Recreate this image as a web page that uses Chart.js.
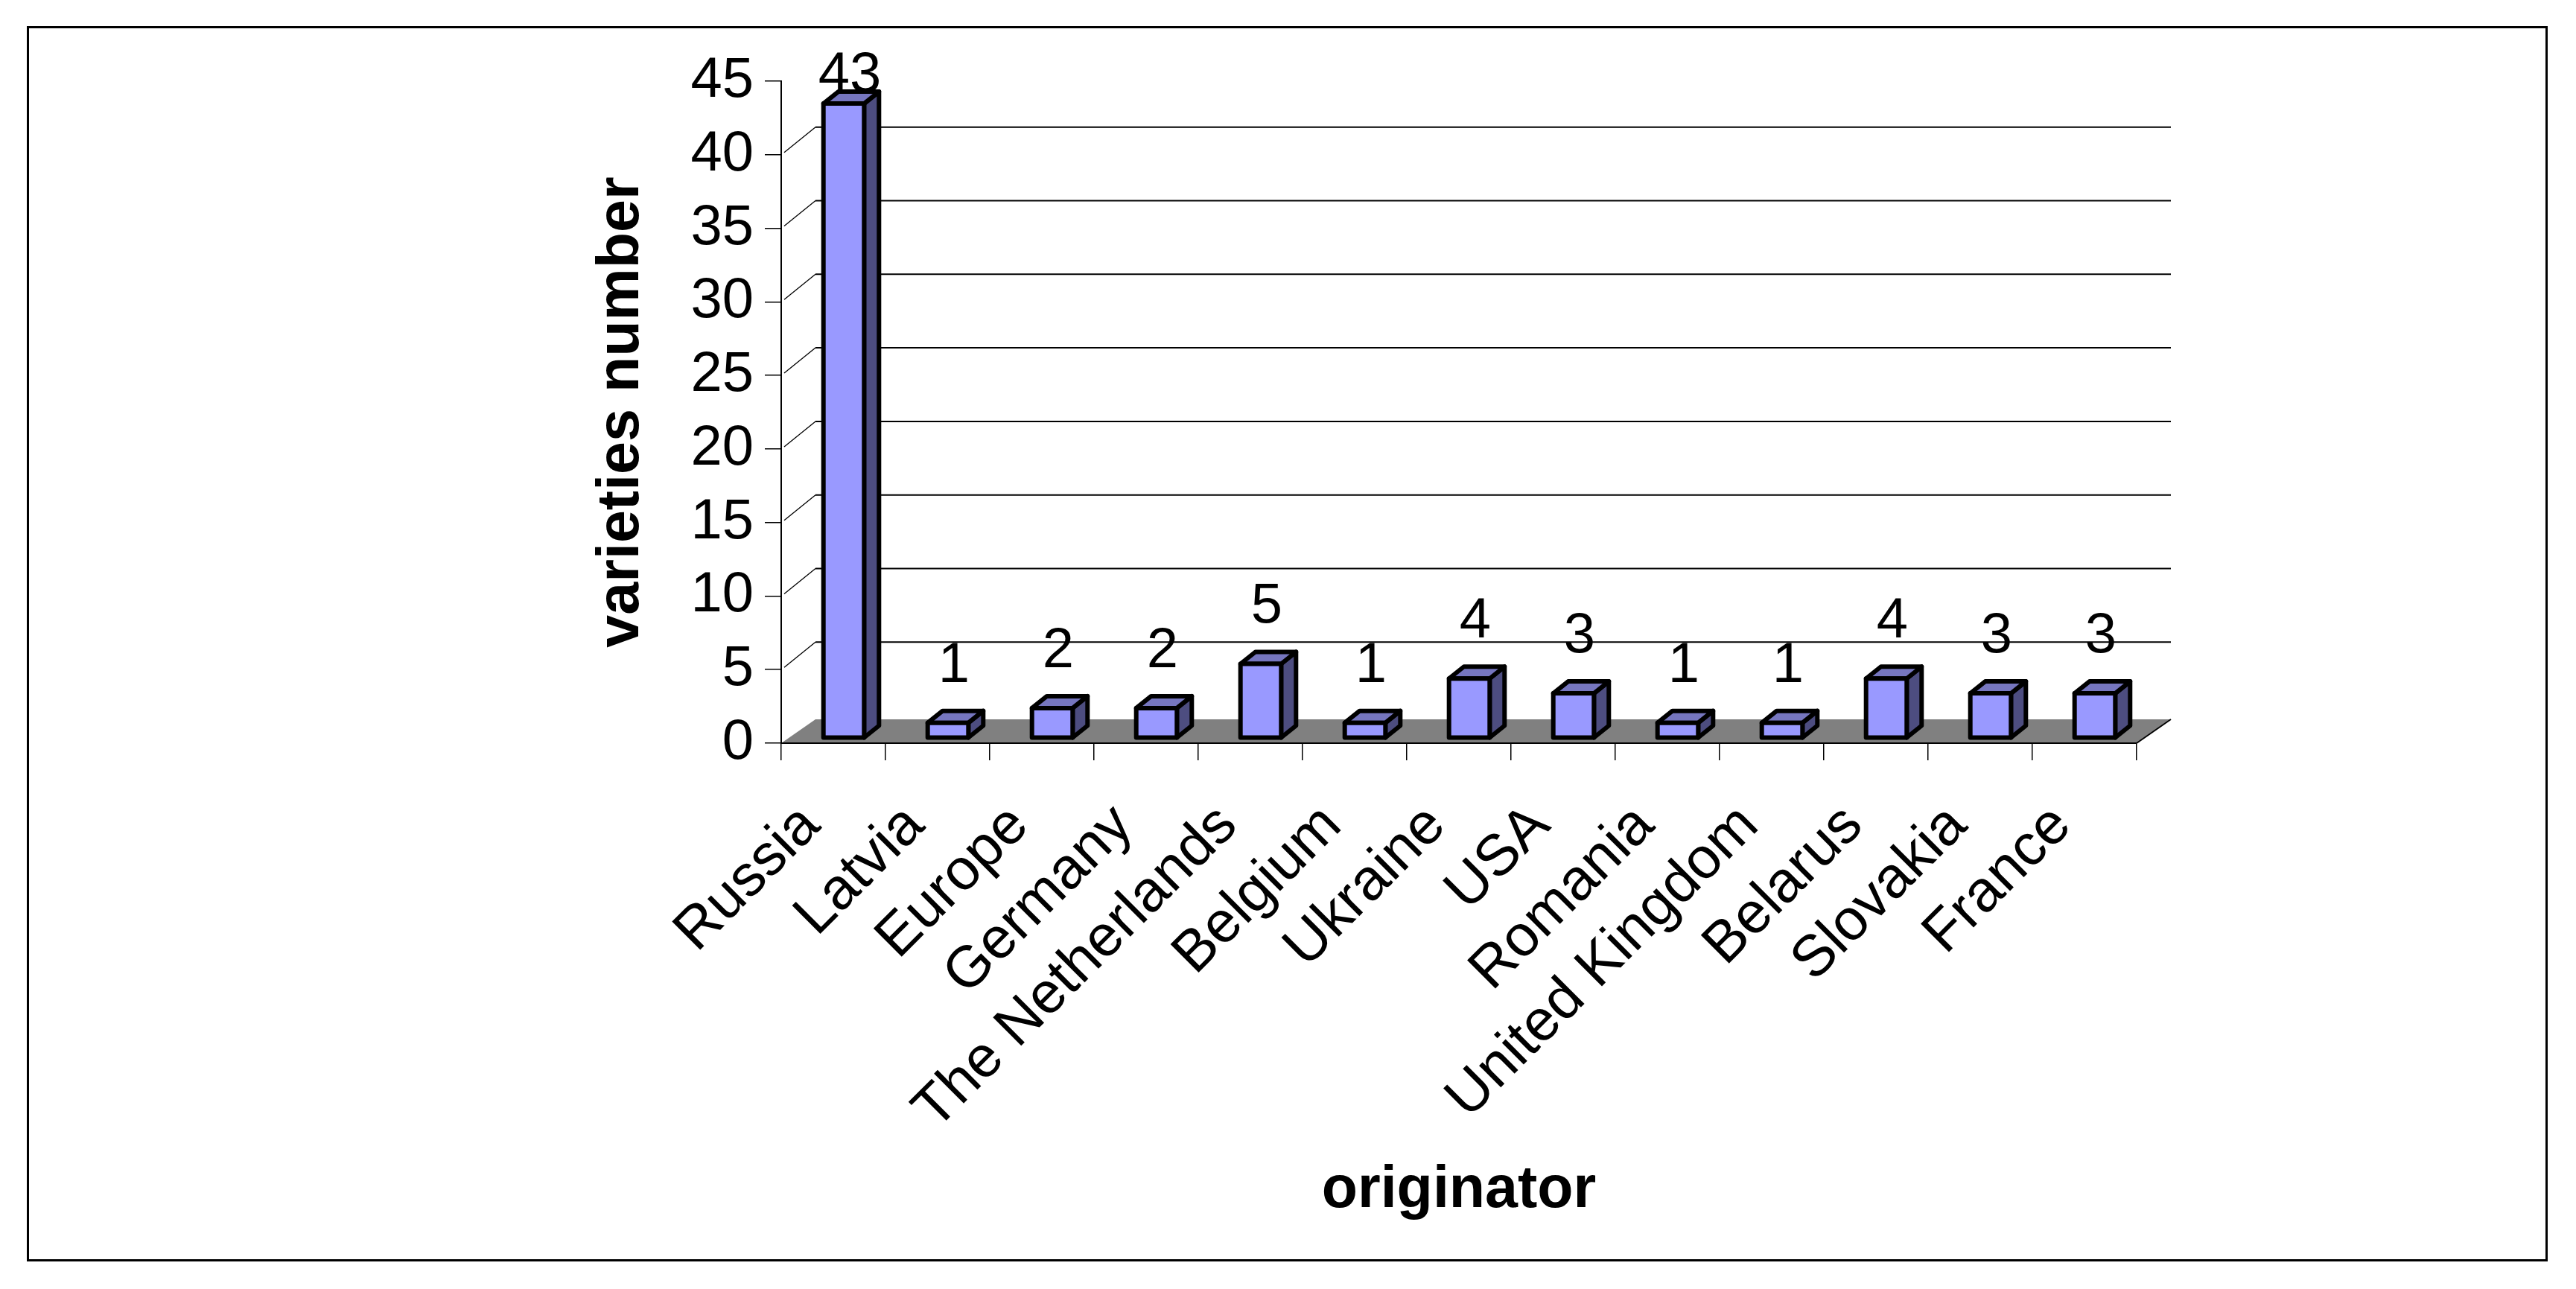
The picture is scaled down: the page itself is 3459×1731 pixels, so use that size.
<!DOCTYPE html>
<html>
<head>
<meta charset="utf-8">
<title>varieties by originator</title>
<script src="https://cdn.jsdelivr.net/npm/chart.js@4.4.0/dist/chart.umd.min.js"></script>
<style>
  html, body { margin: 0; padding: 0; background: #fff; }
</style>
</head>
<body>
<canvas id="chart1" width="3459" height="1731"></canvas>
<script>
const countries = ["Russia", "Latvia", "Europe", "Germany", "The Netherlands", "Belgium",
  "Ukraine", "USA", "Romania", "United Kingdom", "Belarus", "Slovakia", "France"];
const varieties = [43, 1, 2, 2, 5, 1, 4, 3, 1, 1, 4, 3, 3];
const yMin = 0;
const yMax = 45;
const yStep = 5;

Chart.defaults.font.family = '"Liberation Sans", Arial, sans-serif';
Chart.defaults.color = "#000";

// fake 3d look: back wall / floor offset and bar depth
const wall = { dx: 46, dy: -37, floorDy: -32 };
const bar3d = { dx: 20, dy: -16, shift: 14 };

function line(ctx, x1, y1, x2, y2) {
  ctx.beginPath();
  ctx.moveTo(x1, y1);
  ctx.lineTo(x2, y2);
  ctx.stroke();
}

const box3d = {
  id: "box3d",
  beforeDraw(chart) {
    const { ctx, chartArea: a } = chart;
    const y = chart.scales.y;
    ctx.save();
    ctx.strokeStyle = "#000";
    ctx.lineWidth = 3;
    ctx.strokeRect(37.5, 36.5, 3382, 1656);

    ctx.fillStyle = "#808080";
    ctx.beginPath();
    ctx.moveTo(a.left, a.bottom);
    ctx.lineTo(a.right, a.bottom);
    ctx.lineTo(a.right + wall.dx, a.bottom + wall.floorDy);
    ctx.lineTo(a.left + wall.dx, a.bottom + wall.floorDy);
    ctx.closePath();
    ctx.fill();
    ctx.lineWidth = 2;
    line(ctx, a.right, a.bottom, a.right + wall.dx, a.bottom + wall.floorDy);

    y.ticks.forEach((t) => {
      if (t.value === yMin || t.value === yMax) return;
      const py = y.getPixelForValue(t.value);
      ctx.lineWidth = 2;
      line(ctx, a.left + wall.dx, py + wall.dy, a.right + wall.dx, py + wall.dy);
      ctx.lineWidth = 1.3;
      line(ctx, a.left + 4, py - 3, a.left + wall.dx, py + wall.dy);
    });
    ctx.restore();
  },
  afterDatasetsDraw(chart) {
    const { ctx, chartArea: a } = chart;
    const meta = chart.getDatasetMeta(0);
    ctx.save();
    ctx.strokeStyle = "#000";
    ctx.lineWidth = 6;
    ctx.lineJoin = "round";
    meta.data.forEach((el, i) => {
      const { x, y, base, width } = el.getProps(["x", "y", "base", "width"], true);
      const l = x + bar3d.shift - width / 2;
      const r = l + width;
      const dx = bar3d.dx, dy = bar3d.dy;

      // side
      ctx.fillStyle = "#4d4d80";
      ctx.beginPath();
      ctx.moveTo(r, y);
      ctx.lineTo(r + dx, y + dy);
      ctx.lineTo(r + dx, base + dy);
      ctx.lineTo(r, base);
      ctx.closePath();
      ctx.fill();
      ctx.stroke();
      // top
      ctx.fillStyle = "#7676bf";
      ctx.beginPath();
      ctx.moveTo(l, y);
      ctx.lineTo(l + dx, y + dy);
      ctx.lineTo(r + dx, y + dy);
      ctx.lineTo(r, y);
      ctx.closePath();
      ctx.fill();
      ctx.stroke();
      // front
      ctx.fillStyle = "#9999ff";
      ctx.beginPath();
      ctx.rect(l, y, width, base - y);
      ctx.fill();
      ctx.stroke();

      // value label
      ctx.fillStyle = "#000";
      ctx.font = '76px "Liberation Sans", Arial, sans-serif';
      ctx.textAlign = "center";
      ctx.textBaseline = "alphabetic";
      const ly = Math.max(y - 55, a.top + 14);
      ctx.fillText(String(varieties[i]), (l + r) / 2 + 8, ly);
    });
    ctx.restore();
  },
};

const ctx1 = document.getElementById("chart1").getContext("2d");
const chart1 = new Chart(ctx1, {
  type: "bar",
  data: {
    labels: countries,
    datasets: [
      {
        label: "varieties number",
        data: varieties,
        yAxisID: "yBar",
        backgroundColor: "rgba(0,0,0,0)",
        borderWidth: 0,
        categoryPercentage: 1,
        barPercentage: 0.39,
      },
    ],
  },
  options: {
    responsive: false,
    animation: false,
    devicePixelRatio: 1,
    layout: { padding: { left: 788, right: 590, top: 109, bottom: 60 } },
    plugins: { legend: { display: false }, tooltip: { enabled: false } },
    scales: {
      x: {
        grid: { offset: true, drawOnChartArea: false, tickLength: 23, color: "#000", lineWidth: 1.5 },
        border: { display: true, color: "#000", width: 2 },
        ticks: {
          font: { size: 78 },
          color: "#000",
          autoSkip: false,
          minRotation: 45,
          maxRotation: 45,
          padding: 42,
          labelOffset: -30,
        },
        title: {
          display: true,
          text: "originator",
          color: "#000",
          font: { size: 79, weight: "bold" },
          padding: { top: 0, bottom: 24 },
        },
        afterFit(s) { s.height = 673; },
      },
      y: {
        min: yMin,
        max: yMax,
        ticks: { stepSize: yStep, font: { size: 76 }, color: "#000", padding: 15 },
        grid: { drawOnChartArea: false, tickLength: 22, color: "#000", lineWidth: 1.5 },
        border: { display: true, color: "#000", width: 2 },
        title: {
          display: true,
          text: "varieties number",
          color: "#000",
          font: { size: 79, weight: "bold" },
          padding: { top: 0, bottom: 0 },
        },
        afterFit(s) { s.width = 261; },
      },
      // bars sit half way into the depth, so they use a slightly shifted scale
      yBar: { display: false, min: -0.38, max: 44.52 },
    },
  },
  plugins: [box3d],
});
</script>
</body>
</html>
